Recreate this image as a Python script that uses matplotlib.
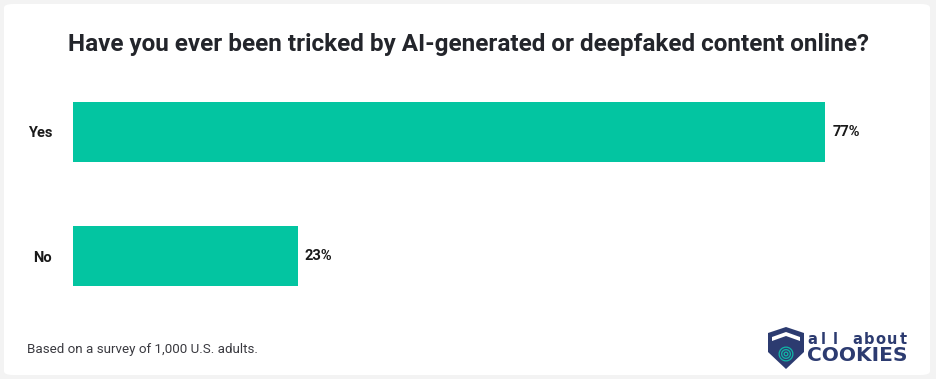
import matplotlib
matplotlib.use("Agg")
import matplotlib.pyplot as plt
from matplotlib.patches import FancyBboxPatch, Polygon, Wedge
import numpy as np

categories = ["Yes", "No"]
values = [77, 23]
value_labels = ["77%", "23%"]
title = "Have you ever been tricked by AI-generated or deepfaked content online?"
note = "Based on a survey of 1,000 U.S. adults."

W, H = 936, 379
fig = plt.figure(figsize=(W / 100, H / 100), dpi=100)
fig.patch.set_facecolor("#f3f3f3")

# white card
card = FancyBboxPatch((4 / W, 4 / H), (W - 10) / W, (H - 8) / H,
                      boxstyle="round,pad=0,rounding_size=0.01",
                      transform=fig.transFigure, facecolor="white",
                      edgecolor="none", zorder=-10)
fig.patches.append(card)

FONT = "Roboto"
BAR = "#03c5a1"

fig.text(468 / W, 1 - 44 / H, title, ha="center", va="center",
         fontsize=17.5, fontweight="bold", family=FONT, color="#23252b")

ax = fig.add_axes([73 / W, 1 - 300 / H, 800 / W, 210 / H])
ax.set_facecolor("none")
pos = np.arange(len(categories))
ax.barh(pos, values, height=60 / 124, color=BAR, edgecolor="none")
ax.set_xlim(0, 800 / 9.77)
ax.set_ylim(1 + 44 / 124, -42 / 124)
for s in ax.spines.values():
    s.set_visible(False)
ax.set_xticks([])
ax.set_yticks(pos)
ax.set_yticklabels(categories, fontsize=10.5, fontweight="bold", family=FONT, color="#1a1a1a")
ax.tick_params(axis="y", length=0, pad=15)
for p, v, lab in zip(pos, values, value_labels):
    ax.annotate(lab, (v, p), xytext=(5, 0), textcoords="offset points",
                ha="left", va="center", fontsize=10.5, fontweight="bold",
                family=FONT, color="#1a1a1a")

fig.text(27 / W, 1 - 349 / H, note, ha="left", va="center", fontsize=9.6,
         family=FONT, color="#3a3a40")

# logo
NAVY = "#2c3b70"
TEAL = "#12b3a6"
lax = fig.add_axes([760 / W, 0, 176 / W, 1 - 318 / H])
lax.set_xlim(760, 936)
lax.set_ylim(379, 318)
lax.axis("off")
lax.add_patch(Polygon([(768, 333), (786, 327), (804, 333), (804, 352), (786, 369), (768, 352)],
                      closed=True, facecolor=NAVY, edgecolor="none"))
lax.add_patch(Polygon([(772, 337), (786, 332), (800, 337), (800, 341), (786, 336), (772, 341)],
                      closed=True, facecolor="white", edgecolor="none"))
for r in [2.5, 5, 7.5]:
    lax.add_patch(Wedge((786, 354), r, 0, 360, width=1.3, facecolor=TEAL, edgecolor="none"))
small = "all about"
xs = np.linspace(812, 903, len(small))
for ch, x in zip(small, xs):
    lax.text(x, 344, ch, ha="center", va="baseline", fontsize=10.5,
             fontweight="bold", family="DejaVu Sans", color=NAVY)
lax.text(807, 361, "COOKIES", ha="left", va="baseline", fontsize=14.5,
         fontweight="bold", family="DejaVu Sans", color=NAVY)

fig.savefig("out.png", dpi=100, facecolor=fig.get_facecolor())
